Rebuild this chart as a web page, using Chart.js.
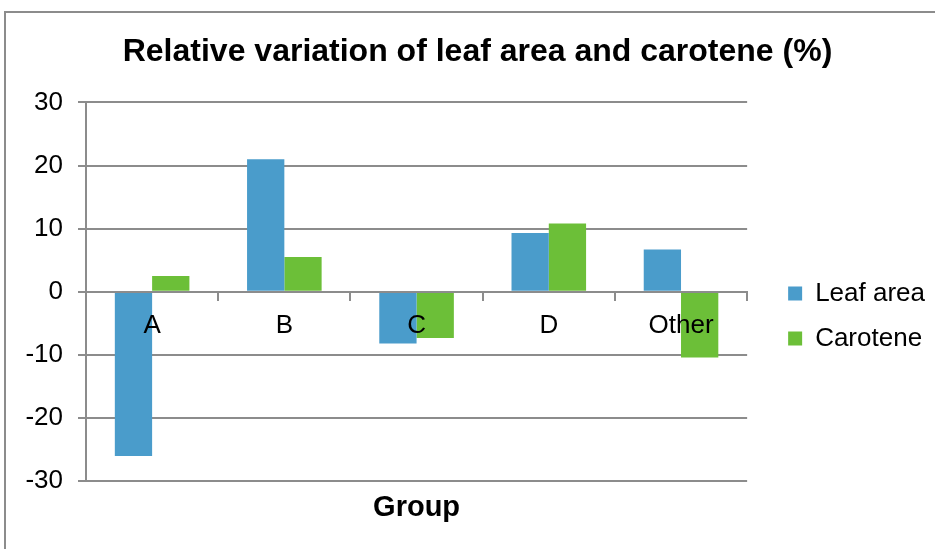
<!DOCTYPE html>
<html>
<head>
<meta charset="utf-8">
<script src="https://cdn.jsdelivr.net/npm/chart.js@4"></script>
<style>
  body { margin: 0; background: #fff; }
  .frame { position: absolute; left: 4px; top: 11px; width: 940px; height: 545px;
           border-left: 2px solid #8c8c8c; border-top: 2px solid #8c8c8c; }
  .wrap { position: absolute; left: 0; top: 0; width: 935px; height: 549px; }
</style>
</head>
<body>
<div class="frame"></div>
<div class="wrap"><canvas id="chart"></canvas></div>
<script>
// Chart data
const groups = ['A', 'B', 'C', 'D', 'Other'];
const leafArea = [-26.0, 21.0, -8.2, 9.3, 6.7];
const carotene = [2.5, 5.5, -7.3, 10.8, -10.4];
const yTicks = [-30, -20, -10, 0, 10, 20, 30];

const blue = '#4a9ccb';
const green = '#6cbf38';
const gridGray = '#8c8c8c';
const font = 'Arial, "Liberation Sans", sans-serif';

new Chart(document.getElementById('chart'), {
    type: 'bar',
    data: {
        labels: groups,
        datasets: [
            { label: 'Leaf area', data: leafArea, backgroundColor: blue },
            { label: 'Carotene', data: carotene, backgroundColor: green }
        ]
    },
    options: {
        responsive: true,
        maintainAspectRatio: false,
        animation: false,
        categoryPercentage: 0.564,
        barPercentage: 1.0,
        layout: { padding: { left: 20, top: 33, right: 0, bottom: 24 } },
        scales: {
            x: {
                position: { y: 0 },
                grid: { offset: true, drawOnChartArea: false, tickLength: 8, color: gridGray, lineWidth: 2 },
                border: { color: gridGray, width: 2, z: 1 },
                ticks: { color: '#000', padding: 10, z: 1, font: { family: font, size: 26 } }
            },
            x2: {
                type: 'category',
                labels: groups,
                position: 'bottom',
                grid: { display: false },
                border: { display: false },
                ticks: { display: false },
                title: { display: true, text: 'Group', color: '#000', padding: { top: 1, bottom: 0 },
                         font: { family: font, size: 29, weight: 'bold' } }
            },
            y: {
                min: -30,
                max: 30,
                afterBuildTicks: axis => { axis.ticks = yTicks.map(v => ({ value: v })); },
                afterFit: axis => { axis.width = 66; },
                grid: { color: gridGray, lineWidth: 2, tickLength: 8 },
                border: { color: gridGray, width: 2 },
                ticks: { color: '#000', padding: 15, font: { family: font, size: 26 } }
            },
            // empty spacer between plot and legend
            y2: {
                position: 'right',
                grid: { display: false },
                border: { display: false },
                ticks: { display: false },
                afterFit: axis => { axis.width = 22; }
            }
        },
        plugins: {
            title: {
                display: true,
                text: 'Relative variation of leaf area and carotene (%)',
                color: '#000',
                padding: { top: 0, bottom: 31 },
                font: { family: font, size: 32, weight: 'bold' }
            },
            legend: {
                position: 'right',
                maxWidth: 220,
                title: { display: true, text: '', padding: { top: 62, bottom: 0 }, font: { size: 10 } },
                labels: {
                    color: '#000',
                    boxWidth: 14,
                    boxHeight: 14,
                    padding: 19,
                    font: { family: font, size: 26 }
                }
            },
            tooltip: { enabled: false }
        }
    }
});
</script>
</body>
</html>
